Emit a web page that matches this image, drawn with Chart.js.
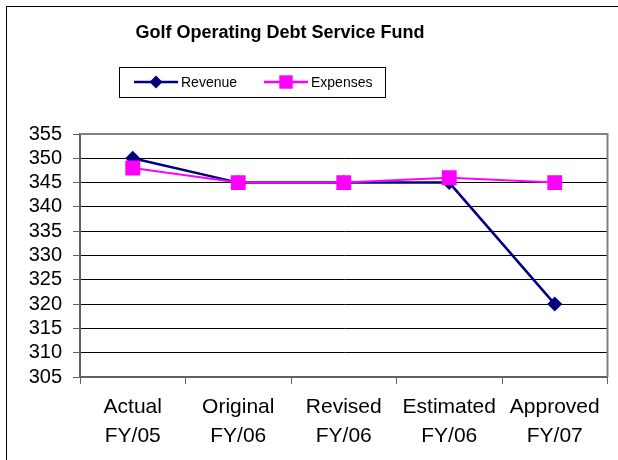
<!DOCTYPE html>
<html>
<head>
<meta charset="utf-8">
<script src="https://cdn.jsdelivr.net/npm/chart.js@4/dist/chart.umd.min.js"></script>
<style>
  html, body { margin: 0; padding: 0; background: #fff; }
  #wrap { width: 618px; height: 460px; position: relative; }
</style>
</head>
<body>
<div id="wrap"><canvas id="chart" width="618" height="460"></canvas></div>
<script>
const categories = [['Actual', 'FY/05'], ['Original', 'FY/06'], ['Revised', 'FY/06'], ['Estimated', 'FY/06'], ['Approved', 'FY/07']];
const revenue = [350, 345, 345, 345, 320];
const expenses = [348, 345, 345, 346, 345];
const yMin = 305;
const yMax = 355;
const yStep = 5;

const titleText = 'Golf Operating Debt Service Fund';
const font = "'Liberation Sans', Arial, sans-serif";
const navy = '#000080';
const magenta = '#FF00FF';

// frame, title, legend box and plot border, drawn around the chart
const decor = {
    id: 'decor',
    beforeDraw(chart) {
        const ctx = chart.ctx;
        ctx.save();
        ctx.fillStyle = '#fff';
        ctx.fillRect(0, 0, chart.width, chart.height);
        ctx.restore();
    },
    afterDraw(chart) {
        const ctx = chart.ctx;
        const area = chart.chartArea;
        ctx.save();
        // outer frame
        ctx.strokeStyle = '#000';
        ctx.lineWidth = 1;
        ctx.strokeRect(6.5, 6.5, 800, 800);

        // plot border top/right
        ctx.strokeStyle = '#808080';
        ctx.lineWidth = 2;
        ctx.beginPath();
        ctx.moveTo(area.left, area.top);
        ctx.lineTo(area.right, area.top);
        ctx.lineTo(area.right, area.bottom);
        ctx.stroke();

        // title
        ctx.fillStyle = '#000';
        ctx.font = 'bold 18px ' + font;
        ctx.textAlign = 'center';
        ctx.textBaseline = 'middle';
        ctx.fillText(titleText, 280, 33);

        // legend
        ctx.strokeStyle = '#000';
        ctx.lineWidth = 1;
        ctx.strokeRect(119.5, 67.5, 266, 30);
        const items = chart.data.datasets.slice().sort((a, b) => a.legendIndex - b.legendIndex);
        const slots = [134, 264];
        ctx.font = '14px ' + font;
        ctx.textAlign = 'left';
        items.forEach((ds, i) => {
            const x0 = slots[i];
            const y = 82;
            ctx.strokeStyle = ds.borderColor;
            ctx.lineWidth = 2.5;
            ctx.beginPath();
            ctx.moveTo(x0, y);
            ctx.lineTo(x0 + 44, y);
            ctx.stroke();
            ctx.fillStyle = ds.borderColor;
            Chart.helpers.drawPoint(ctx, { pointStyle: ds.pointStyle, radius: ds.pointStyle === 'rect' ? 9.5 : 6.5, borderWidth: 0 }, x0 + 22, y);
            ctx.fillStyle = '#000';
            ctx.fillText(ds.label, x0 + 47, y + 1);
        });
        ctx.restore();
    }
};

new Chart(document.getElementById('chart'), {
    type: 'line',
    data: {
        labels: categories,
        datasets: [
            {
                label: 'Revenue',
                data: revenue,
                legendIndex: 0,
                order: 1,
                borderColor: navy,
                backgroundColor: navy,
                borderWidth: 2.5,
                pointStyle: 'rectRot',
                pointRadius: 7.5,
                pointBorderWidth: 0,
                tension: 0
            },
            {
                label: 'Expenses',
                data: expenses,
                legendIndex: 1,
                order: 0,
                borderColor: magenta,
                backgroundColor: magenta,
                borderWidth: 2,
                pointStyle: 'rect',
                pointRadius: 10.5,
                pointBorderWidth: 0,
                tension: 0
            }
        ]
    },
    options: {
        responsive: false,
        animation: false,
        layout: { padding: { top: 134, right: 10, bottom: 0, left: 0 } },
        plugins: {
            legend: { display: false },
            title: { display: false },
            tooltip: { enabled: false }
        },
        scales: {
            x: {
                offset: true,
                grid: { offset: true, drawOnChartArea: false, drawTicks: true, tickLength: 7, color: '#606060', lineWidth: 1 },
                border: { color: '#606060', width: 2 },
                ticks: { color: '#000', padding: 9, maxRotation: 0, autoSkip: false, font: { family: font, size: 21, lineHeight: 1.38 } },
                afterFit(scale) { scale.height = 83; }
            },
            y: {
                min: yMin,
                max: yMax,
                ticks: { stepSize: yStep, autoSkip: false, color: '#000', padding: 11, font: { family: font, size: 20 } },
                grid: { color: '#000', lineWidth: 1, tickLength: 7, tickColor: '#606060' },
                border: { color: '#606060', width: 2 },
                afterFit(scale) { scale.width = 80; }
            }
        }
    },
    plugins: [decor]
});
</script>
</body>
</html>
